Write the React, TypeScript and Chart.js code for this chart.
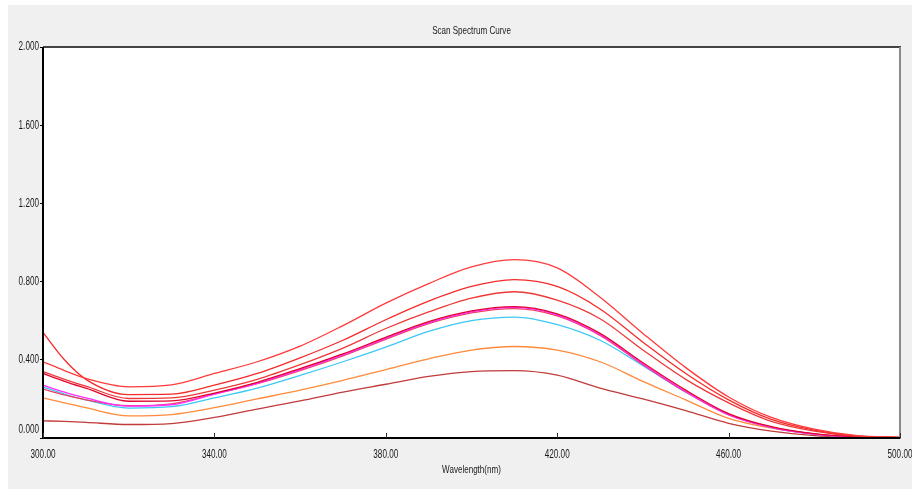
import React, { useEffect, useRef } from "react";
import { Chart, registerables } from "chart.js";

Chart.register(...registerables);

const wavelengths = [300, 305, 310, 320, 330, 340, 350, 360, 370, 380, 390, 400, 410, 420, 430, 440, 450, 460, 470, 480, 490, 500];

const series1 = [0.39, 0.345, 0.305, 0.262, 0.272, 0.33, 0.39, 0.47, 0.575, 0.69, 0.79, 0.875, 0.912, 0.87, 0.72, 0.535, 0.36, 0.21, 0.105, 0.045, 0.012, 0.004];
const series2 = [0.54, 0.40, 0.30, 0.222, 0.224, 0.27, 0.33, 0.41, 0.50, 0.605, 0.70, 0.775, 0.81, 0.775, 0.66, 0.49, 0.33, 0.195, 0.095, 0.04, 0.01, 0.003];
const series3 = [0.34, 0.30, 0.265, 0.202, 0.205, 0.245, 0.30, 0.375, 0.46, 0.56, 0.645, 0.715, 0.748, 0.705, 0.61, 0.45, 0.30, 0.18, 0.085, 0.035, 0.009, 0.003];
const series4 = [0.33, 0.29, 0.255, 0.188, 0.19, 0.23, 0.285, 0.355, 0.43, 0.515, 0.595, 0.65, 0.672, 0.635, 0.535, 0.385, 0.245, 0.125, 0.058, 0.022, 0.006, 0.002];
const series5 = [0.27, 0.235, 0.205, 0.163, 0.17, 0.225, 0.28, 0.35, 0.425, 0.51, 0.59, 0.645, 0.668, 0.63, 0.528, 0.378, 0.238, 0.12, 0.055, 0.02, 0.005, 0.002];
const series6 = [0.25, 0.22, 0.195, 0.165, 0.175, 0.225, 0.278, 0.345, 0.42, 0.505, 0.585, 0.64, 0.662, 0.625, 0.525, 0.375, 0.235, 0.118, 0.054, 0.02, 0.005, 0.002];
const series7 = [0.26, 0.225, 0.195, 0.153, 0.16, 0.205, 0.255, 0.32, 0.39, 0.465, 0.545, 0.60, 0.618, 0.58, 0.50, 0.37, 0.235, 0.12, 0.055, 0.02, 0.005, 0.002];
const series8 = [0.205, 0.18, 0.155, 0.113, 0.12, 0.155, 0.20, 0.245, 0.295, 0.35, 0.405, 0.45, 0.468, 0.45, 0.39, 0.29, 0.195, 0.10, 0.05, 0.02, 0.006, 0.002];
const series9 = [0.088, 0.085, 0.08, 0.069, 0.074, 0.105, 0.148, 0.19, 0.235, 0.275, 0.315, 0.34, 0.345, 0.322, 0.255, 0.20, 0.14, 0.075, 0.035, 0.012, 0.004, 0.001];

const seriesValues = [series1, series2, series3, series4, series5, series6, series7, series8, series9];
const seriesColors = ["#ff3a3a", "#f52a2a", "#ee3838", "#e0062e", "#ff2cff", "#f04060", "#3cc8f5", "#ff8a3c", "#c23a3a"];

const xTicks = [300, 340, 380, 420, 460, 500];
const yTicks = [0, 0.4, 0.8, 1.2, 1.6, 2.0];

const chartTitle = "Scan Spectrum Curve";
const xTitle = "Wavelength(nm)";

const FONT = "'Liberation Sans', Arial, sans-serif";
const NARROW = 0.68;

function narrowText(ctx: CanvasRenderingContext2D, text: string, x: number, y: number, size: number, align: "left" | "right" | "center", squeeze: number) {
  ctx.save();
  ctx.font = `${size}px ${FONT}`;
  ctx.fillStyle = "#1a1a1a";
  ctx.textBaseline = "middle";
  ctx.textAlign = align;
  ctx.translate(x, y);
  ctx.scale(squeeze, 1);
  ctx.fillText(text, 0, 0);
  ctx.restore();
}

const framePlugin = {
  id: "frame",
  beforeDatasetsDraw(chart: any) {
    const { ctx, chartArea } = chart;
    ctx.save();
    ctx.fillStyle = "#ffffff";
    ctx.fillRect(chartArea.left, chartArea.top, chartArea.right - chartArea.left, chartArea.bottom - chartArea.top);
    ctx.restore();
  },
  afterDraw(chart: any) {
    const { ctx, chartArea } = chart;
    const xs = chart.scales.x;
    const ys = chart.scales.y;
    ctx.save();
    ctx.strokeStyle = "#444444";
    ctx.lineWidth = 2;
    ctx.beginPath();
    ctx.moveTo(chartArea.left, chartArea.top);
    ctx.lineTo(chartArea.right + 1, chartArea.top);
    ctx.stroke();
    ctx.strokeStyle = "#8a8a8a";
    ctx.beginPath();
    ctx.moveTo(chartArea.right, chartArea.top);
    ctx.lineTo(chartArea.right, chartArea.bottom + 1);
    ctx.stroke();
    ctx.strokeStyle = "#000000";
    ctx.beginPath();
    ctx.moveTo(chartArea.left, chartArea.top);
    ctx.lineTo(chartArea.left, chartArea.bottom + 1);
    ctx.moveTo(chartArea.left - 1, chartArea.bottom);
    ctx.lineTo(chartArea.right, chartArea.bottom);
    ctx.stroke();
    ctx.lineWidth = 1;
    ctx.strokeStyle = "#333333";
    ctx.beginPath();
    xTicks.forEach((t) => {
      const px = Math.round(xs.getPixelForValue(t)) + 0.5;
      ctx.moveTo(px, chartArea.bottom);
      ctx.lineTo(px, chartArea.bottom - 5);
    });
    ctx.stroke();
    ctx.restore();

    // tick labels (narrow face, as in the original instrument software)
    xTicks.forEach((t) => {
      narrowText(ctx, t.toFixed(2), xs.getPixelForValue(t), chartArea.bottom + 17, 12, "center", NARROW);
    });
    yTicks.forEach((t, i) => {
      const py = ys.getPixelForValue(t) - (i === 0 ? 8 : 0);
      narrowText(ctx, t.toFixed(3), chartArea.left - 4, py, 12, "right", NARROW);
    });
    const cx = (chartArea.left + chartArea.right) / 2;
    narrowText(ctx, chartTitle, cx, 26, 11.5, "center", 0.7);
    narrowText(ctx, xTitle, cx, chartArea.bottom + 32, 11.5, "center", 0.7);
  },
};

export default function App() {
  const ref = useRef<HTMLCanvasElement | null>(null);
  useEffect(() => {
    if (!ref.current) return;
    const chart = new Chart(ref.current, {
      type: "line",
      data: {
        datasets: seriesValues.map((vals, i) => ({
          label: "S" + (i + 1),
          data: wavelengths.map((w, j) => ({ x: w, y: vals[j] })),
          borderColor: seriesColors[i],
          borderWidth: 1.3,
          pointRadius: 0,
          fill: false,
          cubicInterpolationMode: "monotone" as const,
        })),
      },
      options: {
        animation: false,
        responsive: false,
        maintainAspectRatio: false,
        layout: { padding: { left: 0, right: 12, top: 42, bottom: 0 } },
        plugins: {
          legend: { display: false },
          tooltip: { enabled: false },
          title: { display: false, text: chartTitle },
        },
        scales: {
          x: {
            type: "linear",
            min: 300,
            max: 500,
            afterBuildTicks(scale: any) {
              scale.ticks = xTicks.map((v) => ({ value: v }));
            },
            afterFit(scale: any) {
              scale.height = 51;
              scale.paddingLeft = 0;
              scale.paddingRight = 0;
            },
            grid: { display: false, drawTicks: false },
            border: { display: false },
            ticks: { display: false },
            title: { display: false, text: xTitle },
          },
          y: {
            type: "linear",
            min: 0,
            max: 2,
            afterBuildTicks(scale: any) {
              scale.ticks = yTicks.map((v) => ({ value: v }));
            },
            afterFit(scale: any) {
              scale.width = 35;
              scale.paddingTop = 0;
              scale.paddingBottom = 0;
            },
            grid: { display: true, drawOnChartArea: false, drawTicks: true, tickLength: 3, color: "#000000" },
            border: { display: false },
            ticks: { display: false },
          },
        },
      },
      plugins: [framePlugin],
    });
    return () => chart.destroy();
  }, []);

  return (
    <div style={{ position: "fixed", left: 0, top: 0, width: 912, height: 489, background: "#ffffff", overflow: "hidden" }}>
      <div style={{ position: "absolute", left: 8, top: 5, width: 904, height: 484, background: "#f0f0f0" }}>
        <canvas ref={ref} width={904} height={484} style={{ display: "block", width: 904, height: 484 }} />
      </div>
    </div>
  );
}
